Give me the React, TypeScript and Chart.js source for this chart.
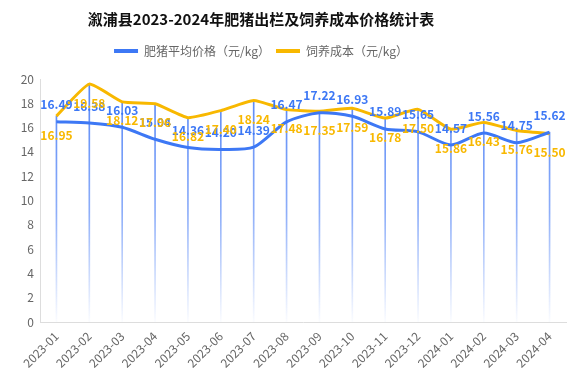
import React, { useEffect, useRef } from "react";
import { Chart, registerables } from "chart.js";

Chart.register(...registerables);

const categories = [
  "2023-01", "2023-02", "2023-03", "2023-04", "2023-05", "2023-06", "2023-07", "2023-08",
  "2023-09", "2023-10", "2023-11", "2023-12", "2024-01", "2024-02", "2024-03", "2024-04",
];
const pigPrice = [16.49, 16.38, 16.03, 15.04, 14.36, 14.2, 14.39, 16.47, 17.22, 16.93, 15.89, 15.65, 14.57, 15.56, 14.75, 15.62];
const feedCost = [16.95, 19.58, 18.12, 17.96, 16.82, 17.4, 18.24, 17.48, 17.35, 17.59, 16.78, 17.5, 15.86, 16.43, 15.76, 15.5];
const yTicks = [0, 2, 4, 6, 8, 10, 12, 14, 16, 18, 20];

const BLUE = "#3d78f5";
const YELLOW = "#f8b800";
const FONT = "'Noto Sans CJK SC', 'Noto Sans', sans-serif";

const labelPlugin = {
  id: "valueLabels",
  afterDatasetsDraw(chart: any) {
    const ctx = chart.ctx;
    ctx.save();
    ctx.font = `bold 12px ${FONT}`;
    ctx.textAlign = "center";
    ctx.textBaseline = "middle";
    const conf = [
      { idx: 0, color: BLUE, dy: -17 },
      { idx: 1, color: YELLOW, dy: 19 },
    ];
    for (const c of conf) {
      const meta = chart.getDatasetMeta(c.idx);
      const data = chart.data.datasets[c.idx].data as number[];
      meta.data.forEach((pt: any, i: number) => {
        ctx.fillStyle = c.color;
        ctx.fillText(data[i].toFixed(2), pt.x, pt.y + c.dy);
      });
    }
    ctx.restore();
  },
};

const headerPlugin = {
  id: "headerShift",
  beforeInit(chart: any) {
    const lg = chart.legend;
    if (lg && !lg.__patched) {
      const orig = lg.fit.bind(lg);
      lg.fit = function () {
        orig();
        this.height += 12;
      };
      lg.__patched = true;
    }
  },
  afterLayout(chart: any) {
    const shift = 44;
    if (chart.titleBlock) chart.titleBlock.right -= shift;
    if (chart.legend) chart.legend.right -= shift;
  },
};

export default function App() {
  const ref = useRef<HTMLCanvasElement | null>(null);
  useEffect(() => {
    if (!ref.current) return;
    const dropValues = pigPrice.map((v, i) => Math.max(v, feedCost[i]));
    const chart = new Chart(ref.current, {
      type: "line",
      data: {
        labels: categories,
        datasets: [
          {
            label: "肥猪平均价格（元/kg）",
            data: pigPrice,
            borderColor: BLUE,
            backgroundColor: BLUE,
            borderWidth: 3,
            pointRadius: 0,
            tension: 0.25,
            order: 1,
          },
          {
            label: "饲养成本（元/kg）",
            data: feedCost,
            borderColor: YELLOW,
            backgroundColor: YELLOW,
            borderWidth: 3,
            pointRadius: 0,
            tension: 0.15,
            order: 2,
          },
          {
            type: "bar",
            label: "drop",
            data: dropValues,
            barThickness: 1,
            order: 3,
            backgroundColor: (ctx: any) => {
              const ca = ctx.chart.chartArea;
              if (!ca) return "rgba(66,120,245,0.7)";
              const g = ctx.chart.ctx.createLinearGradient(0, ca.top, 0, ca.bottom);
              g.addColorStop(0, "rgba(66,120,245,0.9)");
              g.addColorStop(0.55, "rgba(66,120,245,0.6)");
              g.addColorStop(1, "rgba(66,120,245,0.02)");
              return g;
            },
          } as any,
        ],
      },
      options: {
        animation: false,
        responsive: true,
        maintainAspectRatio: false,
        layout: { padding: { left: 0, right: 15, top: 0, bottom: 0 } },
        plugins: {
          title: {
            display: true,
            text: "溆浦县2023-2024年肥猪出栏及饲养成本价格统计表",
            color: "#111",
            font: { size: 15, weight: "bold", family: FONT },
            padding: { top: 10, bottom: 11 },
          },
          legend: {
            display: true,
            labels: {
              color: "#666",
              font: { size: 12, family: FONT },
              boxWidth: 24,
              boxHeight: 4,
              padding: 6,
              filter: (item: any) => item.datasetIndex < 2,
              generateLabels: (chart: any) =>
                (Chart.defaults.plugins.legend.labels as any)
                  .generateLabels(chart)
                  .map((l: any) => ({ ...l, lineWidth: 0 })),
            },
          },
          tooltip: { enabled: false },
        },
        scales: {
          x: {
            offset: true,
            grid: { display: false, drawTicks: false },
            border: { display: true, color: "#dddddd" },
            ticks: {
              color: "#666",
              font: { size: 12, family: FONT },
              maxRotation: 45,
              minRotation: 45,
              padding: 7,
              autoSkip: false,
            },
            afterFit: (scale: any) => {
              scale.height = 65;
            },
          },
          y: {
            min: 0,
            max: 20,
            afterBuildTicks: (scale: any) => {
              scale.ticks = yTicks.map((v) => ({ value: v }));
            },
            grid: { display: false, drawTicks: false },
            border: { display: true, color: "#dddddd" },
            ticks: {
              color: "#666",
              font: { size: 12, family: FONT },
              padding: 6,
            },
            afterFit: (scale: any) => {
              scale.width = 40;
            },
          },
        },
      },
      plugins: [labelPlugin, headerPlugin],
    });
    return () => chart.destroy();
  }, []);
  return (
    <div style={{ position: "fixed", left: 0, top: 0, width: 581, height: 387, background: "#fff" }}>
      <canvas ref={ref} />
    </div>
  );
}
